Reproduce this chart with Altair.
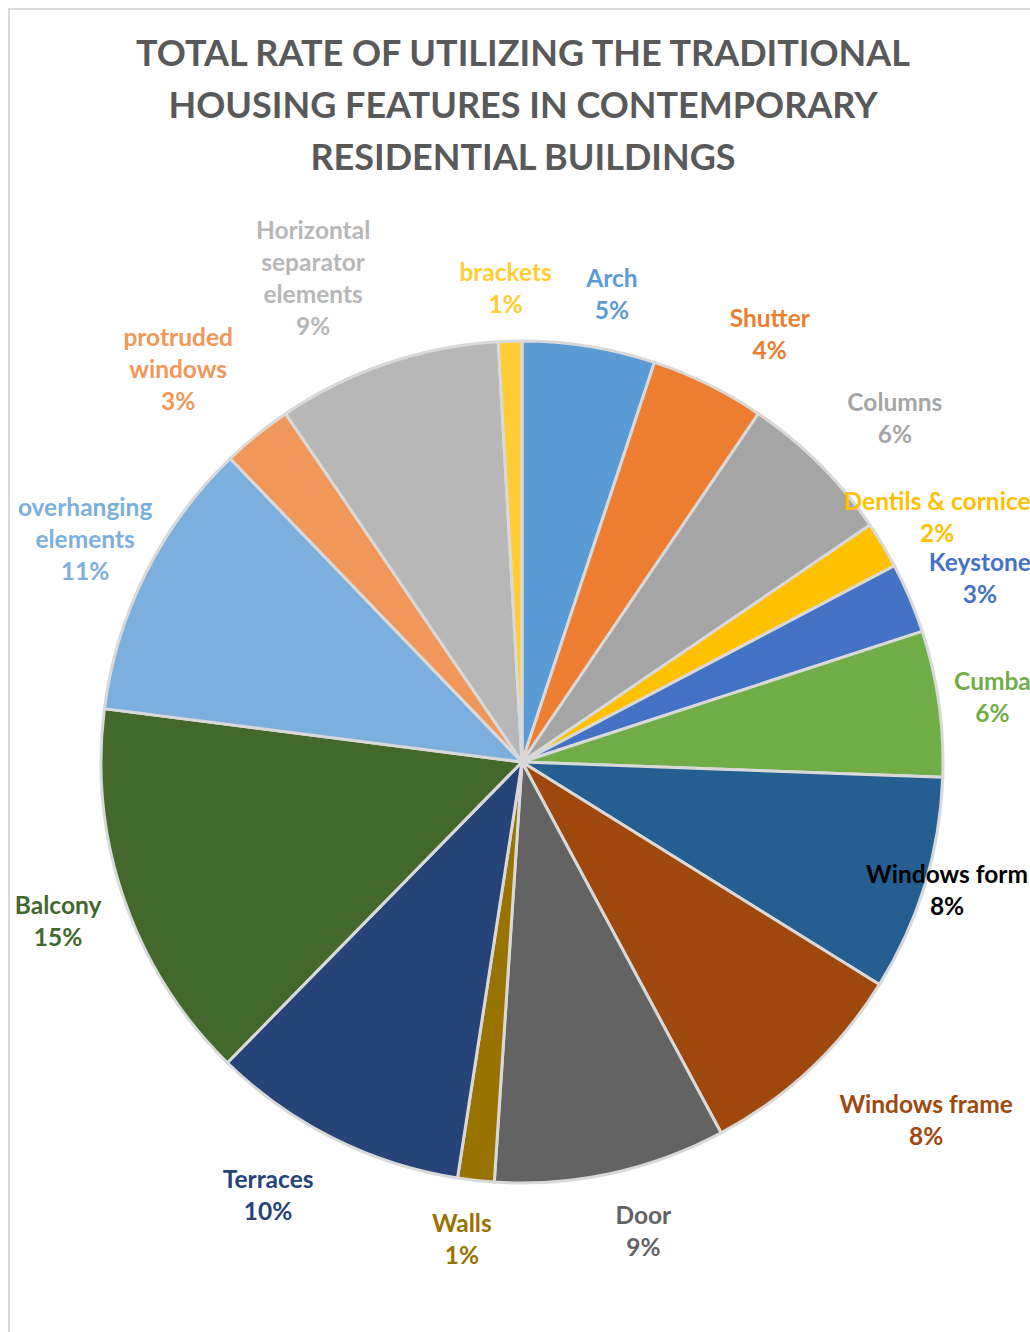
import altair as alt
import pandas as pd

# Features, clockwise from 12 o'clock, and their share of use (%)
features = [
    "Arch", "Shutter", "Columns", "Dentils & cornice", "Keystone", "Cumba",
    "Windows form", "Windows frame", "Door", "Walls", "Terraces", "Balcony",
    "overhanging elements", "protruded windows", "Horizontal separator elements",
    "brackets",
]
shares = [5.1, 4.4, 6.0, 1.8, 2.7, 5.6, 8.3, 8.3, 8.9, 1.4, 9.9, 14.7, 10.8, 2.7, 8.6, 0.9]

# How each feature name is broken over lines in its label
label_names = [
    "Arch", "Shutter", "Columns", "Dentils & cornice", "Keystone", "Cumba",
    "Windows form", "Windows frame", "Door", "Walls", "Terraces", "Balcony",
    "overhanging\nelements", "protruded\nwindows", "Horizontal\nseparator\nelements",
    "brackets",
]

title_lines = [
    "TOTAL RATE OF UTILIZING THE TRADITIONAL",
    "HOUSING FEATURES IN CONTEMPORARY",
    "RESIDENTIAL BUILDINGS",
]

# Styling
slice_colors = [
    "#5B9BD5", "#ED7D31", "#A5A5A5", "#FFC000", "#4472C4", "#70AD47",
    "#255E91", "#9E480E", "#636363", "#997300", "#264478", "#43682B",
    "#7CAFDD", "#F1975A", "#B7B7B7", "#FFCD33",
]
label_colors = list(slice_colors)
label_colors[6] = "#000000"

# Label placement: distance of the first text line from the centre (px)
# and a small turn (degrees) away from the slice's middle angle
label_radius = [490, 507, 517, 489, 499, 477, 440, 531, 471, 467, 490, 486, 505, 545, 570, 488]
label_turn = [1.4, 3.0, 1.2, -0.9, -0.5, -1.5, -2.0, -6.4, -2.7, 1.1, 4.6, 1.8, 3.4, -0.1, -2.8, -0.3]

W, H, TOP = 1030, 1332, 200
CX, CY, R = 522, 762 - TOP, 421
FONT = "Lato"

df = pd.DataFrame({
    "feature": features,
    "share": shares,
    "order": list(range(len(features))),
    "name": label_names,
    "label_color": label_colors,
    "label_r": label_radius,
    "turn": label_turn,
})
total = df["share"].sum()
df["label"] = [f"{n}\n{s / total:.0%}" for n, s in zip(df["name"], df["share"])]

theta_scale = alt.Scale(domain=[0, total])

pie = alt.Chart(df).mark_arc(radius=R, stroke="#D9D9D9", strokeWidth=3).encode(
    theta=alt.Theta("share:Q", stack=True, scale=theta_scale),
    order=alt.Order("order:Q", sort="ascending"),
    x=alt.value(CX),
    y=alt.value(CY),
    color=alt.Color(
        "feature:N",
        scale=alt.Scale(domain=features, range=slice_colors),
        legend=None,
    ),
    tooltip=["feature:N", "share:Q"],
)

# Labels sit near the middle angle of their slice
labels = alt.Chart(df).transform_window(
    cum="sum(share)", sort=[alt.SortField("order", order="ascending")]
).transform_calculate(
    mid=f"datum.cum - datum.share / 2 + datum.turn * {total} / 360"
).mark_text(
    font=FONT, fontSize=24.5, fontWeight="bold", lineBreak="\n",
    lineHeight=32, align="center", baseline="middle",
).encode(
    theta=alt.Theta("mid:Q", stack=None, scale=theta_scale),
    radius=alt.Radius("label_r:Q", scale=None),
    x=alt.value(CX),
    y=alt.value(CY),
    text="label:N",
    color=alt.Color("label_color:N", scale=None),
)

title = alt.Chart(pd.DataFrame({"t": ["\n".join(title_lines)]})).mark_text(
    font=FONT, fontSize=36, fontWeight="bold", color="#595959",
    lineBreak="\n", lineHeight=52, align="center", baseline="middle",
).encode(text="t:N", x=alt.value(523), y=alt.value(55 - TOP))

# Light chart frame
frame = alt.Chart(pd.DataFrame({"k": [0]})).mark_rect(
    fill=None, stroke="#D9D9D9", strokeWidth=2
).encode(
    x=alt.value(9), x2=alt.value(W + 20),
    y=alt.value(9 - TOP), y2=alt.value(H + 20 - TOP),
)

chart = alt.layer(frame, pie, labels, title).properties(
    width=W,
    height=H - TOP,
    autosize=alt.AutoSizeParams(type="none"),
    padding={"left": 0, "right": 0, "top": TOP, "bottom": 0},
    background="white",
).configure_view(stroke=None)

chart.save("out.html", embed_options={"renderer": "svg", "actions": False})
